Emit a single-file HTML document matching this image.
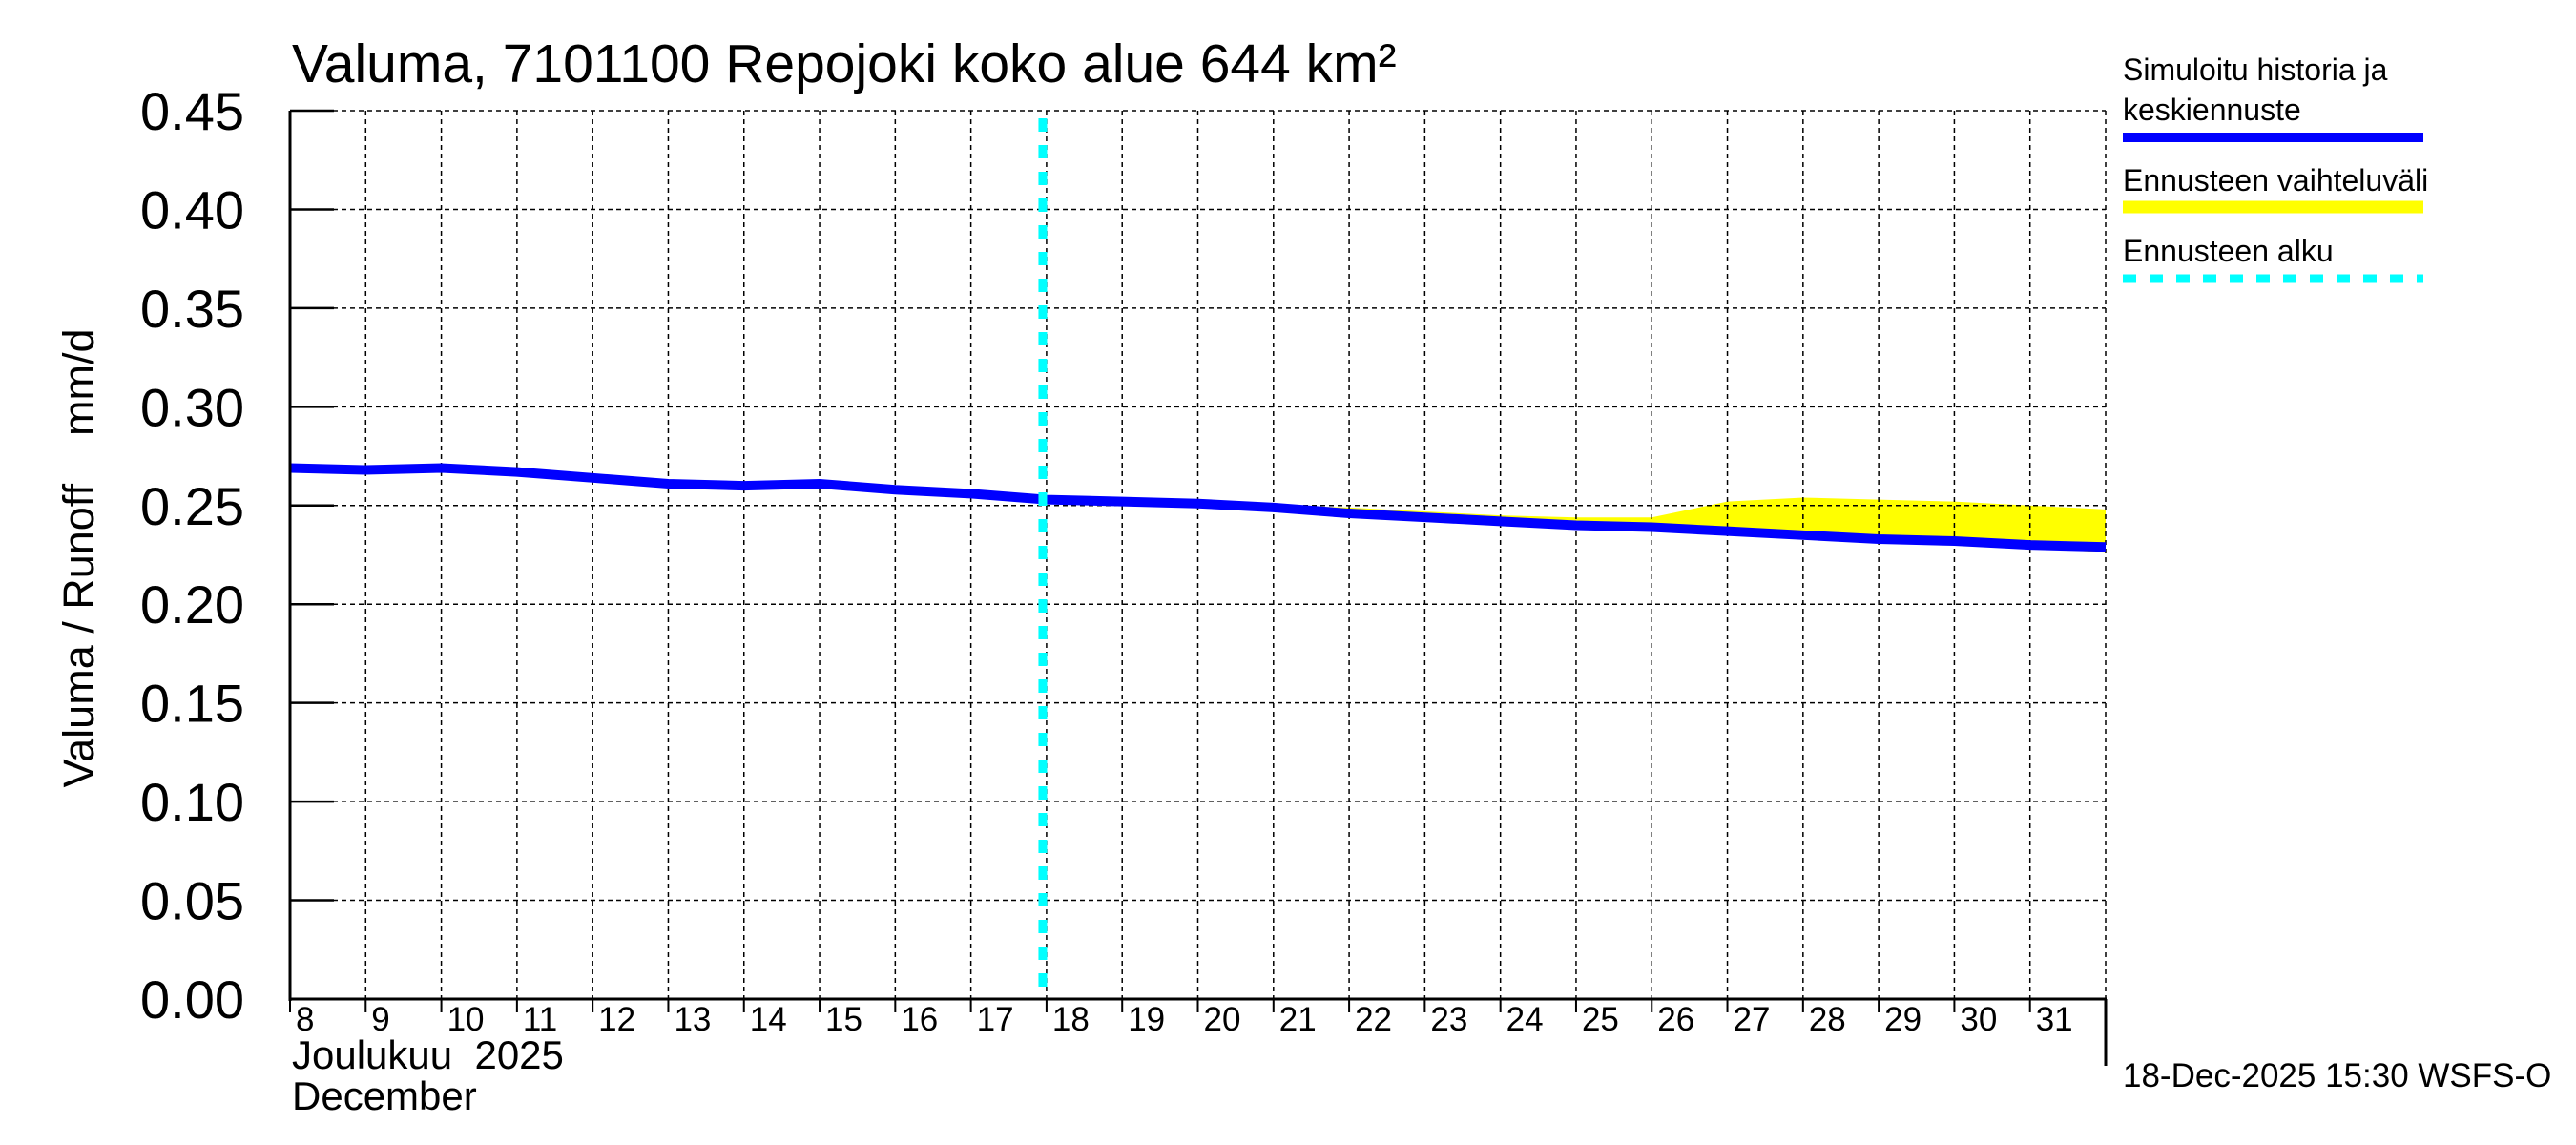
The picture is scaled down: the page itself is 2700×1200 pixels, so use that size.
<!DOCTYPE html>
<html><head><meta charset="utf-8"><style>
html,body{margin:0;padding:0;background:#fff;}
svg{display:block;font-family:"Liberation Sans",sans-serif;}
</style></head><body>
<svg id="chart" width="2700" height="1200" viewBox="0 0 2700 1200" xmlns="http://www.w3.org/2000/svg">
<rect width="2700" height="1200" fill="#fff"/>
<text x="306" y="86" font-size="57">Valuma, 7101100 Repojoki koko alue 644 km²</text>
<g id="band"></g>
<g id="grid"></g>
<g id="series"></g>
<g id="axes"></g>
<text transform="translate(98,585) rotate(-90)" text-anchor="middle" font-size="45" xml:space="preserve">Valuma / Runoff    mm/d</text>
<text x="306" y="1120" font-size="42" xml:space="preserve">Joulukuu  2025</text>
<text x="306" y="1163" font-size="42">December</text>
<text x="2225" y="1139" font-size="35">18-Dec-2025 15:30 WSFS-O</text>
<g>
<text x="2225" y="84" font-size="32">Simuloitu historia ja</text>
<text x="2225" y="126" font-size="32">keskiennuste</text>
<line x1="2225" x2="2540" y1="144" y2="144" stroke="#0000ff" stroke-width="10"/>
<text x="2225" y="200" font-size="32">Ennusteen vaihteluväli</text>
<line x1="2225" x2="2540" y1="217" y2="217" stroke="#ffff00" stroke-width="13"/>
<text x="2225" y="274" font-size="32">Ennusteen alku</text>
<line x1="2225" x2="2540" y1="292" y2="292" stroke="#00ffff" stroke-width="9" stroke-dasharray="14,14"/>
</g>
</svg>
<script>
const dayLabels=["8","9","10","11","12","13","14","15","16","17","18","19","20","21","22","23","24","25","26","27","28","29","30","31"];
const yTicks=[0,0.05,0.1,0.15,0.2,0.25,0.3,0.35,0.4,0.45];
const yTickLabels=["0.00","0.05","0.10","0.15","0.20","0.25","0.30","0.35","0.40","0.45"];
const simValues=[0.269,0.268,0.269,0.267,0.264,0.261,0.260,0.261,0.258,0.256,0.253,0.252,0.251,0.249,0.246,0.244,0.242,0.240,0.239,0.237,0.235,0.233,0.232,0.230,0.229];
const bandStartDay=10;
const bandUpper=[0.253,0.252,0.251,0.250,0.249,0.247,0.245,0.244,0.244,0.252,0.254,0.253,0.252,0.250,0.248];
const bandLower=[0.253,0.252,0.251,0.249,0.246,0.244,0.242,0.240,0.239,0.237,0.235,0.233,0.232,0.229,0.226];
const forecastStart=9.95;

const X0=304,X1=2207,Y0=1047,Y1=116,NDAYS=24,YMAX=0.45;
const xs=d=>X0+(X1-X0)*d/NDAYS;
const ys=v=>Y0-(Y0-Y1)*v/YMAX;
const NS="http://www.w3.org/2000/svg";
function mk(tag,attrs,parent){const e=document.createElementNS(NS,tag);for(const k in attrs)e.setAttribute(k,attrs[k]);parent.appendChild(e);return e;}
const grid=document.getElementById('grid'),axes=document.getElementById('axes'),series=document.getElementById('series'),band=document.getElementById('band');

let pts=[];
for(let i=0;i<bandUpper.length;i++)pts.push(xs(bandStartDay+i)+","+ys(bandUpper[i]));
for(let i=bandLower.length-1;i>=0;i--)pts.push(xs(bandStartDay+i)+","+ys(bandLower[i]));
const poly=mk('polygon',{points:pts.join(" "),fill:"#ffff00"},band);



for(let i=1;i<=NDAYS;i++){
  const g=mk('line',{x1:xs(i),x2:xs(i),y1:Y1,y2:Y0,stroke:"#000","stroke-width":1.5,"stroke-dasharray":"5,4"},grid);
  
  
}
for(let i=1;i<yTicks.length;i++){
  const g=mk('line',{x1:X0,x2:X1,y1:ys(yTicks[i]),y2:ys(yTicks[i]),stroke:"#000","stroke-width":1.5,"stroke-dasharray":"5,4"},grid);
  
  
}

const sl=mk('polyline',{points:simValues.map((v,i)=>xs(i)+","+ys(v)).join(" "),fill:"none",stroke:"#0000ff","stroke-width":10},series);


const fl=mk('line',{x1:xs(forecastStart),x2:xs(forecastStart),y1:Y1+8,y2:Y0,stroke:"#00ffff","stroke-width":9,"stroke-dasharray":"14,14"},series);



const la=mk('line',{x1:X0,x2:X0,y1:Y1,y2:Y0+2,stroke:"#000","stroke-width":3},axes);


const ba=mk('line',{x1:X0,x2:X1+1,y1:Y0,y2:Y0,stroke:"#000","stroke-width":3},axes);


const rt=mk('line',{x1:X1,x2:X1,y1:Y0,y2:1117,stroke:"#000","stroke-width":3},axes);


yTicks.forEach((v,i)=>{
  const t=mk('line',{x1:X0,x2:X0+46,y1:ys(v),y2:ys(v),stroke:"#000","stroke-width":2.5},axes);
  
  
  const l=mk('text',{x:256,y:ys(v)+20,"text-anchor":"end","font-size":56},axes);
  l.textContent=yTickLabels[i];
  
  
});
for(let i=0;i<NDAYS;i++){
  const t=mk('line',{x1:xs(i),x2:xs(i),y1:Y0,y2:Y0+14,stroke:"#000","stroke-width":2},axes);
  
  
  const l=mk('text',{x:xs(i)+6,y:1080,"text-anchor":"start","font-size":35},axes);
  l.textContent=dayLabels[i];
  
  
}
</script>
</body></html>
